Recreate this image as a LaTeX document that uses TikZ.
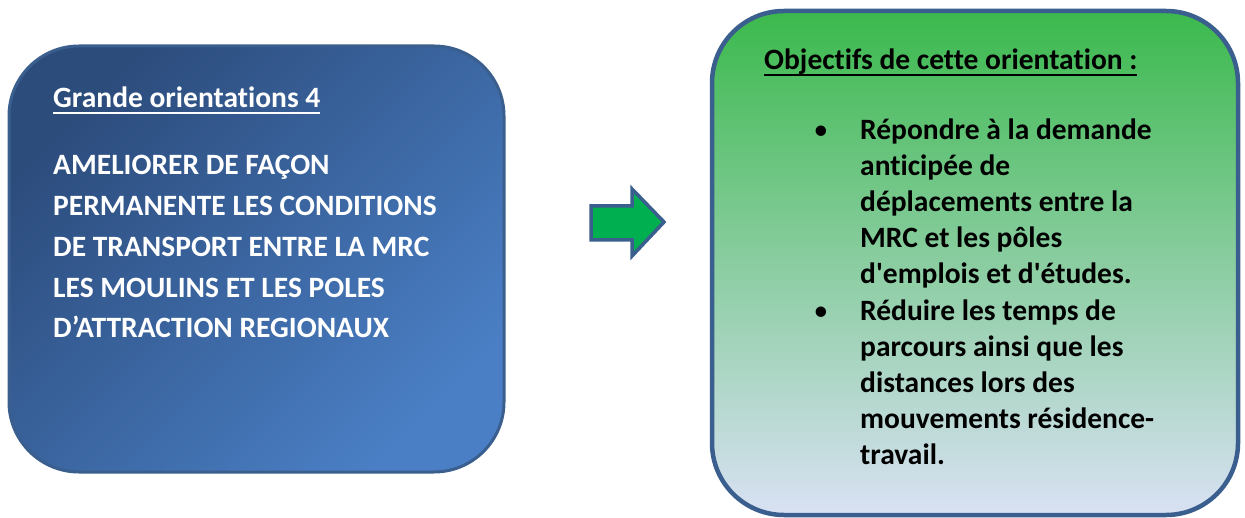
\documentclass[tikz,border=0pt]{standalone}
\usepackage{fontspec}
\setmainfont{Carlito}[Ligatures={NoCommon,TeXOff}]
\usepackage{tikz}
\usetikzlibrary{positioning}
\definecolor{bordure}{HTML}{3A5E8E}
\definecolor{bleuA}{HTML}{2C4C7C}
\definecolor{bleuB}{HTML}{4A7FC5}
\definecolor{vertA}{HTML}{3BB94D}
\definecolor{vertB}{HTML}{95C9AE}
\definecolor{lavande}{HTML}{D9E1F4}
\definecolor{fleche}{HTML}{00B050}
\newcommand\lignes[1]{\begin{tabular}[t]{@{}l@{}}#1\end{tabular}}
\newcommand\souligne[1]{\setbox0\hbox{#1}\rlap{\rule[-5.6pt]{\wd0}{1.8pt}}\box0}

\begin{document}
\begin{tikzpicture}[
  x=1pt, y=-1pt,
  txt/.style={inner sep=0pt, anchor=base west, font=\fontsize{29.5}{40.7}\selectfont\bfseries},
  liste/.style={txt, font=\fontsize{29.5}{36}\selectfont\bfseries},
  puce/.style={inner sep=0pt, anchor=base, font=\fontsize{29.5}{36}\selectfont},
]
\useasboundingbox (0,0) rectangle (1245,518);
\path[draw=bordure, line width=3pt, rounded corners=70pt,
  top color=bleuA, bottom color=bleuB, shading angle=45]
  (9,46) rectangle (504,472);
\path[draw=bordure, line width=4.5pt, rounded corners=72pt,
  top color=vertA, middle color=vertB, bottom color=lavande]
  (712,11) rectangle (1238,515);
\path[draw=bordure, line width=3.5pt, fill=fleche, line join=miter]
  (591,206) -- (632,206) -- (632,189) -- (664,222) -- (632,256) -- (632,240) -- (591,240) -- cycle;

\node[txt, text=white] (grande) at (53,108) {\souligne{Grande orientations 4}};
\node[txt, text=white] (ameliorer) at (53,175)
  {\lignes{AMELIORER DE FAÇON\\
   PERMANENTE LES CONDITIONS\\
   DE TRANSPORT ENTRE LA MRC\\
   LES MOULINS ET LES POLES\\
   D’ATTRACTION REGIONAUX}};

\node[txt] (objectifs) at (764,70) {\souligne{Objectifs de cette orientation :}};
\node[liste] (repondre) at (860,140)
  {\lignes{Répondre à la demande\\
   anticipée de\\
   déplacements entre la\\
   MRC et les pôles\\
   d'emplois et d'études.}};
\node[liste] (reduire) at (860,321)
  {\lignes{Réduire les temps de\\
   parcours ainsi que les\\
   distances lors des\\
   mouvements résidence-\\
   travail.}};
\node[puce] (puceA) at (821,140) {\textbullet};
\node[puce] (puceB) at (821,321) {\textbullet};
\end{tikzpicture}
\end{document}
